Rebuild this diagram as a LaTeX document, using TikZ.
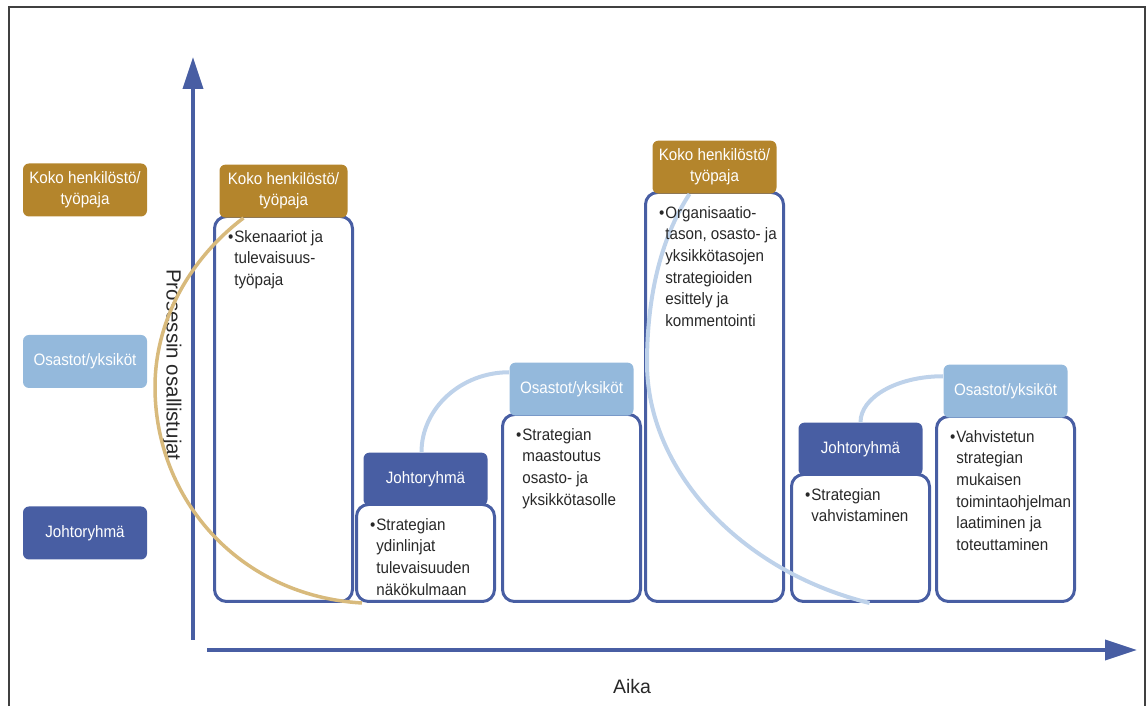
\documentclass[tikz,border=0pt]{standalone}
\usepackage{fontspec}
\setmainfont{Liberation Sans}
\newfontfamily\condfont[FakeStretch=0.92]{Liberation Sans}
\usetikzlibrary{positioning,arrows.meta}

\definecolor{jblue}{RGB}{72,94,163}
\definecolor{okblue}{RGB}{148,185,220}
\definecolor{kgold}{RGB}{180,133,44}
\definecolor{arcgold}{RGB}{216,186,124}
\definecolor{arcblue}{RGB}{190,210,234}
\definecolor{txtgray}{RGB}{40,40,40}

\tikzset{every picture/.style={line width=0.75pt}}
\tikzset{
	stage/.style={draw=jblue, line width=3pt, rounded corners=12pt, minimum width=138pt, inner sep=0pt, anchor=south west},
	hdr/.style={rounded corners=6pt, minimum width=124pt, minimum height=53pt, inner sep=2pt, align=center, text=white, font=\condfont\fontsize{16.5}{21}\selectfont},
	note/.style={anchor=north west, inner sep=0pt, align=left, text=txtgray, font=\condfont\fontsize{16.5}{21.6}\selectfont},
	axis/.style={draw=jblue, line width=3.5pt, -{Triangle[length=32pt,width=20pt]}},
	goldarc/.style={draw=arcgold, line width=3.5pt},
	bluearc/.style={draw=arcblue, line width=4pt},
}

\begin{document}
\begin{tikzpicture}[x=1pt,y=1pt]
		%\draw [help lines, step=50] (0,0) grid (1147,706);
		\useasboundingbox (0,0) rectangle (1147,706);
		\draw[line width=1.5pt, black!75] (9,0) -- (9,699) -- (1145,699) -- (1145,0);

		\draw[axis] (193,66) -- (193,649);
		\draw[axis] (207,56) -- (1137,56);
		\node[rotate=-90, text=txtgray, font=\fontsize{20.5}{24}\selectfont] (osall) at (172,341) {Prosessin osallistujat};
		\node[text=txtgray, font=\fontsize{19.5}{23}\selectfont] (aika) at (632,19) {Aika};

		\node[hdr, fill=kgold] (lkoko) at (85,516) {Koko henkilöstö/\\työpaja};
		\node[hdr, fill=okblue] (losasto) at (85,344.5) {Osastot/yksiköt};
		\node[hdr, fill=jblue] (ljohto) at (85,173) {Johtoryhmä};

		\node[stage, minimum height=385pt] (boxA) at (213,103) {};
		\node[stage, minimum height=97pt] (boxB) at (355,103) {};
		\node[stage, minimum height=187pt] (boxC) at (501,103) {};
		\node[stage, minimum height=409pt] (boxD) at (644,103) {};
		\node[stage, minimum height=127pt] (boxE) at (790,103) {};
		\node[stage, minimum height=185pt] (boxF) at (935,103) {};

		\node[hdr, fill=kgold, minimum width=128pt, above=-3pt of boxA] (hdA) {Koko henkilöstö/\\työpaja};
		\node[hdr, fill=jblue, above=-3pt of boxB] (hdB) {Johtoryhmä};
		\node[hdr, fill=okblue, above=-3pt of boxC] (hdC) {Osastot/yksiköt};
		\node[hdr, fill=kgold, above=-3pt of boxD] (hdD) {Koko henkilöstö/\\työpaja};
		\node[hdr, fill=jblue, above=-3pt of boxE] (hdE) {Johtoryhmä};
		\node[hdr, fill=okblue, above=-3pt of boxF] (hdF) {Osastot/yksiköt};

		\coordinate (gA) at (155,319);
		\coordinate (bD) at (647,343);
		\draw[goldarc] ([xshift=-40pt]hdA.south) .. controls +(-53,-40) and +(0,67) .. (gA)
			.. controls +(0,-113) and +(-122,7) .. ([xshift=7pt]boxB.south west);
		\draw[bluearc] ([xshift=-4pt]hdB.north) .. controls +(0,44) and +(-48,0) .. ([yshift=-10pt]hdC.north west);
		\draw[bluearc] (hdE.north) .. controls +(0,25) and +(-46,0) .. ([yshift=-12pt]hdF.north west);
		\draw[bluearc] ([xshift=-25pt]hdD.south) .. controls +(-30,-46) and +(0,63) .. (bD)
			.. controls +(0,-107) and +(-130,32) .. ([xshift=9pt]boxE.south);

		\node[note] (tA) at ([xshift=21pt,yshift=-15pt]boxA.north west) {\llap{\textbullet\hspace{1pt}}Skenaariot ja\\tulevaisuus-\\työpaja};
		\node[note] (tB) at ([xshift=21pt,yshift=-15pt]boxB.north west) {\llap{\textbullet\hspace{1pt}}Strategian\\ydinlinjat\\tulevaisuuden\\näkökulmaan};
		\node[note] (tC) at ([xshift=21pt,yshift=-15pt]boxC.north west) {\llap{\textbullet\hspace{1pt}}Strategian\\maastoutus\\osasto- ja\\yksikkötasolle};
		\node[note] (tD) at ([xshift=21pt,yshift=-15pt]boxD.north west) {\llap{\textbullet\hspace{1pt}}Organisaatio-\\tason, osasto- ja\\yksikkötasojen\\strategioiden\\esittely ja\\kommentointi};
		\node[note] (tE) at ([xshift=21pt,yshift=-15pt]boxE.north west) {\llap{\textbullet\hspace{1pt}}Strategian\\vahvistaminen};
		\node[note] (tF) at ([xshift=21pt,yshift=-15pt]boxF.north west) {\llap{\textbullet\hspace{1pt}}Vahvistetun\\strategian\\mukaisen\\toimintaohjelman\\laatiminen ja\\toteuttaminen};
	\end{tikzpicture}
\end{document}
